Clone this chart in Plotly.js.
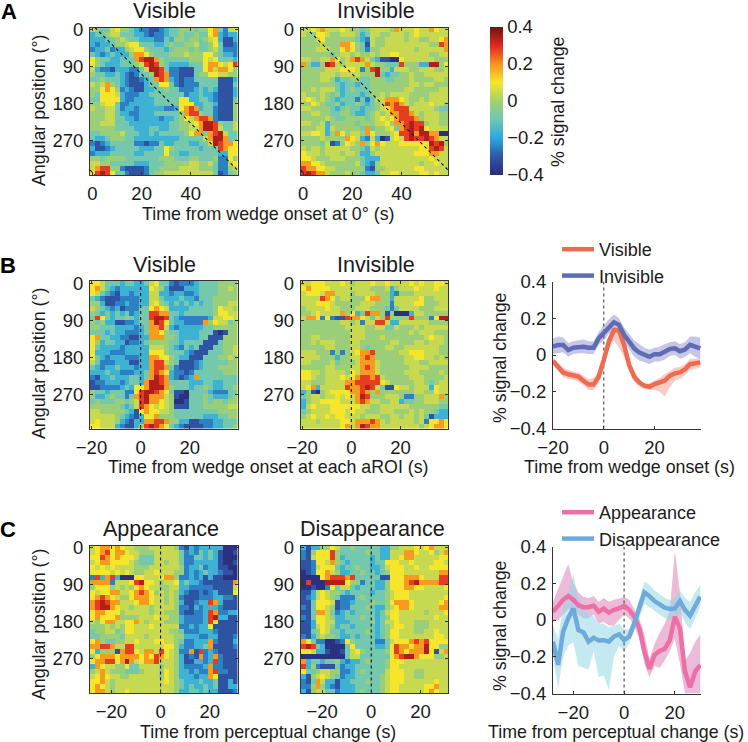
<!DOCTYPE html>
<html><head><meta charset="utf-8">
<script src="https://cdn.plot.ly/plotly-3.0.1.min.js"></script>
<style>html,body{margin:0;padding:0;background:#fff}#c{width:748px;height:742px}</style>
</head><body><div id="c"></div>
<script>
// Heatmap cells; each character is one cell, coded by colour level.
const levelCodes = "0123456789ab";
const levelValues = [-0.39,-0.31,-0.25,-0.17,-0.09,-0.02,0.04,0.10,0.19,0.28,0.34,0.40];

const aVisible = [
"65446 75543 22112 34455 54557 84266","34456 64443 32122 34454 45447 83233","33344 56544 33322 43554 55456 73113",
"32334 55677 44433 45445 56445 74112","23342 33567 75444 34555 45445 64222","43234 33358 87544 45556 55577 54332",
"75443 34448 9aa85 44444 55576 74443","75433 34445 69a95 43333 44478 87679","63221 33322 46aa9 42211 14478 68875",
"54433 43212 445a9 82211 14557 76655","44544 43211 23489 83212 24444 41113","65685 43211 13447 74212 22444 41114",
"55787 52321 13344 54422 23434 31113","54777 63222 33444 44442 33433 21113","44777 73223 33344 44477 33443 21114",
"55677 42233 33344 44477 73344 31115","65566 42332 33333 22378 98344 21115","55566 43322 33344 44458 99544 21115",
"55566 44332 33332 33457 68998 21115","55666 44433 33333 34455 678aa 95446","55555 44443 33443 34455 668aa 96446",
"44555 56444 33434 44445 78848 9a644","43345 55443 33333 33344 44468 aa844","21234 44442 21224 33444 33446 a9887",
"31123 44444 33344 75444 44344 49877","23334 44443 34444 74433 44444 43377","55455 55444 44445 55444 55444 52275",
"66554 44443 33444 55555 66556 42267","68995 52111 12445 55566 66555 42256","79a97 44211 12455 66666 66666 41245"];

const aInvisible = [
"66768 66676 55456 66658 66676 68766","65577 65566 65346 65566 65676 66666","55567 55555 54326 55666 65665 56678",
"55556 55588 75416 55666 66666 65598","55566 65578 75425 56666 66656 66668","55555 54566 56556 56677 66666 65566",
"66556 68756 89864 31100 76666 66555","85335 a9656 66686 55444 95553 3aa57","55555 66677 76259 a5536 66556 66556",
"55556 66566 66555 a4344 55655 66666","55556 65344 55445 55445 55655 55665","55555 55434 43445 55555 55665 66555",
"55656 66434 54445 55555 56655 55566","65556 54534 44345 56566 66555 56666","67656 54344 42424 66888 76556 56666",
"55765 44534 45434 56989 86566 67665","66555 54345 44344 56789 99666 66544","55665 54455 43345 65688 99865 66655",
"55555 65445 55545 67678 99985 66655","66556 35555 54555 66758 89a99 56655","55566 36555 55484 55674 89a9a 76666",
"66776 35875 66587 55567 99a8a a8800","55556 55558 76326 30167 69a99 a9866","55554 61257 65857 87666 77777 7a9a5",
"65665 66666 55436 56666 66667 79a96","76665 66656 65335 66666 66677 78866","77655 56665 55433 36666 66666 67666",
"88776 55555 56432 56666 66665 66766","98877 66555 55521 55666 66677 66666","9a988 65556 55433 46677 66667 76766"];

const bVisible = [
"77644 43443 34674 42122 23444 45555","78643 23333 33765 31113 33444 45565","76432 13323 33663 32332 23444 45555",
"43211 12222 33664 33343 32444 55555","55311 22322 33675 43434 34344 55566","65432 31222 44787 63333 44444 57665",
"54343 43423 44998 84434 44444 57766","49743 44543 449aa 94322 22223 66776","54533 11223 448a9 74332 22285 76645",
"55444 33332 34889 63233 33344 55555","44434 33222 34887 54433 33444 10155","78443 32211 33888 55433 33441 11555",
"75344 33122 34555 54434 44411 14555","74333 32333 33666 54324 34111 44556","73332 22333 33777 54443 21114 44556",
"74323 33222 33887 75433 11144 45565","64222 33311 33899 65411 12344 44455","43233 43332 33899 84211 12344 45555",
"33343 32223 34898 73221 24444 44555","21334 33344 348a9 83212 38444 44444","12233 32344 38aa9 84444 33344 33444",
"11222 23437 78aaa 85444 34454 33445","54434 44227 9aa98 74110 44443 22244","53345 44248 9a888 65100 44454 33345",
"45444 55456 9a887 65001 44454 55455","55555 54346 98767 65111 44455 55566","66555 55431 78776 65444 44444 45555",
"66666 54321 37785 55444 44433 34455","67666 53213 38899 85533 11222 33444","77666 32113 59a98 74321 11122 33445"];

const bInvisible = [
"66777 66676 56667 66766 66767 66776","78777 76666 66665 55635 66676 66766","67776 88666 56666 55532 55566 66666",
"66669 87566 55578 85536 66667 55666","66677 76555 55666 55526 66677 55566","56666 76655 56665 55424 66665 55666",
"55676 66685 73498 85150 00366 55555","68872 72119 88764 65955 55955 527aa","55555 55566 56266 99633 66666 65555",
"55555 55556 66655 66446 55565 66666","55555 55555 66655 55555 55656 66555","55665 55555 66655 56555 55555 67665",
"55656 66555 66555 55566 55566 56665","55555 66555 66545 55665 56666 66655","66655 52525 67889 55555 66777 66655",
"66665 55355 66898 55555 56677 66565","66555 56455 56888 65555 56665 56666","55555 66555 66898 65555 55666 65555",
"77665 66665 76888 65555 56665 55565","77655 66676 78998 96555 55666 55556","66555 66668 89999 97655 55566 54566",
"67836 66669 889a9 64117 66566 63766","35105 67777 88985 85555 55566 55766","45665 66767 68a95 55666 52255 66685",
"35667 77766 68986 65566 34455 66655","36766 67777 77665 56666 66555 55544","45666 67776 76655 56665 55656 55433",
"56766 76776 66566 65566 56656 41333","66656 66677 68889 86566 66656 27787","66666 66678 68a98 86666 66665 67887"];

const cAppearance = [
"67887 87665 55666 66521 32333 33000","67897 88766 55566 66642 32434 31001","77987 87776 44466 66642 24434 31000",
"67887 77765 44466 56642 23333 31001","76767 66665 55666 66652 33423 31100","77776 76765 56676 66552 32343 32110",
"29389 30007 76667 88522 32313 11000","88882 66679 a7765 66734 33211 11118","57775 65657 87665 56633 22222 11116",
"76778 86678 98756 56532 11212 31117","78987 65578 88766 56521 11222 33221","89a98 86667 88766 56531 12339 83111",
"89aa8 76656 66566 66522 13233 32111","78877 75666 66566 55521 12239 82233","78777 85555 66676 65532 22239 a3311",
"65788 66778 65666 55532 22239 71111","55565 65776 66766 66622 32337 11111","45566 45776 66666 65542 22333 21111",
"44555 54666 65666 66553 33223 31112","78544 55667 66677 66542 23338 21113","88998 66996 66666 77532 23348 11112",
"73555 18997 68869 76522 81923 21111","57888 78888 78798 76531 21823 82111","78899 78a86 78896 66531 13323 92111",
"38766 55744 66665 66532 22238 22111","56865 55444 56665 76533 23228 92211","67876 65566 66665 76533 32338 71111",
"77865 66666 66666 76543 33433 41131","78765 66666 66666 66543 43343 41133","78865 66766 66666 66533 44343 31112"];

const cDisappearance = [
"31335 57644 54444 43355 66676 78666","21577 79544 44454 43366 68876 67568","21677 79534 44443 43366 78866 66677",
"11277 68543 44443 44777 66766 66776","11267 77434 45443 34677 76676 67777","01277 86533 44544 34577 76666 66688",
"00007 89998 94444 41177 78887 66699","09000 aaaa7 55244 33577 789a8 88899","00100 27466 43444 33577 78877 66667",
"11367 65543 44443 44567 77666 66666","12367 65422 24544 44567 77666 66667","11477 76122 34445 44578 88766 66678",
"21477 65122 44454 33567 88766 66688","11488 64234 34444 34677 66666 56667","21477 65334 44544 34577 66666 66766",
"11377 66333 44445 34667 66655 56666","11367 65344 34444 34567 76655 56666","11457 64434 44454 34577 66655 66766",
"21356 55433 43444 34577 66666 66776","87422 00127 54444 22467 77898 97777","9a943 00004 74444 33479 88788 a7755",
"77633 10014 67544 44579 87888 a7168","00000 00004 66444 44478 9aa87 77556","83443 44532 33454 44577 76666 66666",
"93521 11423 34444 44577 66666 66666","74456 65522 34544 44677 76655 66666","31567 65423 34444 45677 76655 66666",
"21486 33133 44454 45677 76666 66766","22585 32133 34444 45677 66666 77866","31566 44233 34544 45677 66666 78766"];

// Time courses
const wedgeTime = [-20,-18,-16,-14,-12,-10,-8,-6,-4,-2,0,2,4,6,8,10,12,14,16,18,20,22,24,26,28,30,32,34,36,38];
const visibleMean = [-.033,-.064,-.095,-.105,-.11,-.118,-.14,-.16,-.16,-.118,-.027,.073,.136,.133,.055,-.055,-.118,-.15,-.167,-.173,-.158,-.15,-.14,-.113,-.1,-.095,-.078,-.05,-.047,-.04];
const visibleUpper = [-.015,-.04,-.07,-.08,-.09,-.095,-.115,-.13,-.125,-.09,-.005,.09,.15,.15,.09,-.02,-.09,-.135,-.155,-.155,-.14,-.125,-.105,-.085,-.07,-.065,-.05,-.02,-.02,-.015];
const visibleLower = [-.05,-.085,-.12,-.13,-.135,-.145,-.165,-.19,-.19,-.15,-.06,.03,.08,.04,-.01,-.09,-.145,-.17,-.185,-.19,-.19,-.2,-.225,-.175,-.14,-.13,-.11,-.08,-.075,-.07];
const invisibleMean = [.045,.055,.055,.027,.04,.045,.045,.04,.04,.09,.12,.155,.178,.164,.11,.073,.036,.013,0,-.01,.004,.004,.018,.033,.036,.02,.03,.055,.045,.036];
const invisibleUpper = [.09,.1,.095,.065,.075,.08,.085,.075,.075,.125,.16,.195,.22,.2,.15,.115,.08,.06,.04,.03,.04,.045,.06,.07,.075,.06,.07,.1,.1,.095];
const invisibleLower = [.005,.01,.015,-.01,.005,.01,.01,.005,.005,.055,.08,.115,.135,.125,.07,.03,-.01,-.03,-.04,-.05,-.035,-.035,-.025,-.005,0,-.02,-.01,.01,-.01,-.02];

const perceptTime = [-28,-26,-24,-22,-20,-18,-16,-14,-12,-10,-8,-6,-4,-2,0,2,4,6,8,10,12,14,16,18,20,22,24,26,28,30];
const appearanceMean = [.045,.08,.11,.13,.11,.08,.07,.07,.078,.045,.063,.04,.055,.063,.078,.055,.018,-.045,-.17,-.266,-.19,-.168,-.157,-.11,.018,-.045,-.28,-.367,-.28,-.245];
const appearanceUpper = [.1,.17,.24,.305,.2,.15,.125,.12,.13,.1,.12,.1,.11,.115,.125,.11,.06,.01,-.08,-.21,-.13,-.07,-.02,.05,.38,.15,-.22,-.18,-.12,-.08];
const appearanceLower = [-.01,0,.03,.06,.05,.03,.01,.01,.03,-.02,-.01,-.03,-.03,0,.03,.01,-.03,-.1,-.24,-.31,-.25,-.26,-.22,-.17,-.1,-.24,-.4,-.4,-.4,-.4];
const disappearanceMean = [-.118,-.244,-.063,.01,.063,-.055,-.067,-.118,-.096,-.112,-.11,-.118,-.09,-.078,-.11,-.09,-.018,.063,.15,.13,.103,.085,.067,.06,.063,.103,.054,.024,.08,.127];
const disappearanceUpper = [-.03,-.1,.08,.15,.25,.12,.08,.03,.02,-.02,-.02,-.04,-.03,-.02,-.05,-.05,.02,.12,.21,.19,.16,.14,.12,.11,.12,.16,.12,.1,.15,.19];
const disappearanceLower = [-.2,-.37,-.2,-.14,-.12,-.25,-.26,-.27,-.17,-.31,-.3,-.38,-.2,-.14,-.17,-.13,-.06,.01,.09,.07,.05,.03,.01,0,0,.04,-.01,-.05,.01,.07];

const timeTicksA = [0,20,40];
const timeTicksB = [-20,0,20];
const angleTicks = [0,90,180,270];
const percentTicks = [-0.4,-0.2,0,0.2,0.4];

// ---- helpers ----
const W = 748, H = 742, FONT = '"Liberation Sans", Arial, sans-serif', INK = '#1a1a1a';
const TICK = 18.5, LABEL = 17.8, TITLE = 21.5, LEG = 18;
const decode = rows => rows.map(r => Array.from(r.replace(/\s/g,'')).map(c => levelValues[levelCodes.indexOf(c)]));
const angles = Array.from({length:30},(_,i)=>i*12);
const colorscale = [[0,'#2a2c7c'],[.125,'#2f57a7'],[.25,'#2aa9e0'],[.375,'#6dc7b4'],[.5,'#a7d06a'],[.625,'#f5e62c'],[.75,'#f7931e'],[.875,'#e2261f'],[1,'#6b1512']];

const layout = {width:W,height:H,autosize:false,margin:{l:0,r:0,t:0,b:0},paper_bgcolor:'#fff',plot_bgcolor:'#fff',
  font:{family:FONT,size:TICK,color:INK},showlegend:true,annotations:[],
  coloraxis:{cmin:-.4,cmax:.4,colorscale,colorbar:{x:490/W,xanchor:'left',xpad:0,ypad:0,y:1-101/H,yanchor:'middle',len:148/H,lenmode:'fraction',
    thickness:13,thicknessmode:'pixels',outlinewidth:0,tickvals:percentTicks,ticklen:0,ticks:'',tickfont:{size:TICK,family:FONT,color:INK}}},
  legend:{x:557/W,y:1-231/H,xanchor:'left',yanchor:'top',bgcolor:'rgba(0,0,0,0)',font:{size:LEG},itemwidth:32,traceorder:'grouped',tracegroupgap:0},
  legend2:{x:557/W,y:1-494/H,xanchor:'left',yanchor:'top',bgcolor:'rgba(0,0,0,0)',font:{size:LEG},itemwidth:32,traceorder:'grouped',tracegroupgap:0}
};
const traces = [];
function axisPair(n,x0,x1,y0,y1,xaxis,yaxis){
  const s = n===1?'':n;
  layout['xaxis'+s] = Object.assign({domain:[x0/W,x1/W],anchor:'y'+s,tickfont:{size:TICK,family:FONT,color:INK},zeroline:false,showgrid:false,
    linecolor:'#333',linewidth:1,ticks:'inside',ticklen:3,tickcolor:'#333',ticklabelstandoff:2},xaxis);
  layout['yaxis'+s] = Object.assign({domain:[1-y1/H,1-y0/H],anchor:'x'+s,tickfont:{size:TICK,family:FONT,color:INK},zeroline:false,showgrid:false,
    linecolor:'#333',linewidth:1,ticks:'inside',ticklen:3,tickcolor:'#333',ticklabelstandoff:2},yaxis);
  return ['x'+s,'y'+s];
}
function heat(n,x0,y0,rows,left,ticks,lines,yLabels){
  const [xa,ya] = axisPair(n,x0,x0+147.5,y0,y0+147.5,{range:[left,left+60],tickvals:ticks,mirror:'ticks',ticklabelposition:'outside'},
    {range:[354,-6],tickvals:angleTicks,mirror:'ticks',showticklabels:yLabels});
  traces.push({type:'heatmap',x:Array.from({length:30},(_,i)=>left+1+2*i),y:angles,z:decode(rows),coloraxis:'coloraxis',xaxis:xa,yaxis:ya,hoverinfo:'skip',showlegend:false});
  lines.forEach(l=>traces.push({type:'scatter',mode:'lines',x:l[0],y:l[1],xaxis:xa,yaxis:ya,showlegend:false,hoverinfo:'skip',line:{color:'#111',width:1.1,dash:'3px,3px'}}));
}
function course(n,x0,y0,range,time,series,legendName){
  const [xa,ya] = axisPair(n,x0,x0+148,y0,y0+147,{range,tickvals:timeTicksB},{range:[-.4,.4],tickvals:percentTicks});
  series.forEach(s=>traces.push({type:'scatter',mode:'lines',x:time.concat(time.slice().reverse()),y:s.upper.concat(s.lower.slice().reverse()),
    fill:'toself',fillcolor:s.band,line:{width:0},xaxis:xa,yaxis:ya,showlegend:false,hoverinfo:'skip'}));
  traces.push({type:'scatter',mode:'lines',x:[0,0],y:[-.4,.4],xaxis:xa,yaxis:ya,showlegend:false,hoverinfo:'skip',line:{color:'#444',width:1.1,dash:'3px,3px'}});
  series.forEach(s=>traces.push({type:'scatter',mode:'lines',name:s.name,legend:legendName,legendgroup:s.name,x:time,y:s.mean,xaxis:xa,yaxis:ya,hoverinfo:'skip',line:{color:s.color,width:4.5,shape:'linear'}}));
}
function note(text,x,y,size,opt){
  layout.annotations.push(Object.assign({text,xref:'paper',yref:'paper',x:x/W,y:1-y/H,showarrow:false,xanchor:'center',yanchor:'middle',font:{size,family:FONT,color:INK}},opt||{}));
}

// ---- panels ----
const diagA = [[[-1,1],[342,354]],[[1,59],[-6,342]]];
heat(1,90,27.5,aVisible,-1,timeTicksA,diagA,true);
heat(2,300.7,27.5,aInvisible,-1,timeTicksA,diagA,true);
const zeroB = [[[0,0],[-6,354]]];
heat(3,90,281,bVisible,-20.6,timeTicksB,zeroB,true);
heat(4,300.7,281,bInvisible,-20.6,timeTicksB,zeroB,true);
course(5,553,281.5,[-20,38.3],wedgeTime,[
 {name:'Visible',mean:visibleMean,upper:visibleUpper,lower:visibleLower,color:'#ee6a50',band:'rgba(240,130,115,.42)'},
 {name:'Invisible',mean:invisibleMean,upper:invisibleUpper,lower:invisibleLower,color:'#5f6bb3',band:'rgba(120,120,195,.42)'}],'legend');
heat(6,90,545.5,cAppearance,-28.7,timeTicksB,zeroB,true);
heat(7,300.7,545.5,cDisappearance,-28.7,timeTicksB,zeroB,true);
course(8,553,546.5,[-28,30.3],perceptTime,[
 {name:'Appearance',mean:appearanceMean,upper:appearanceUpper,lower:appearanceLower,color:'#ec6fa6',band:'rgba(215,120,175,.5)'},
 {name:'Disappearance',mean:disappearanceMean,upper:disappearanceUpper,lower:disappearanceLower,color:'#6faadd',band:'rgba(150,215,230,.55)'}],'legend2');

// ---- text ----
const bold = {font:{size:22,family:FONT,color:'#000',weight:700}};
note('A',9,12,22,bold); note('B',8,265,22,bold); note('C',8,529,22,bold);
note('Visible',164,11,TITLE); note('Invisible',376,11,TITLE);
note('Visible',164,265,TITLE); note('Invisible',376,265,TITLE);
note('Appearance',161,529,TITLE); note('Disappearance',372,529,TITLE);
note('Time from wedge onset at 0° (s)',268,214,LABEL);
note('Time from wedge onset at each aROI (s)',268,467,LABEL);
note('Time from perceptual change (s)',268,732,LABEL);
note('Time from wedge onset (s)',629,467,LABEL);
note('Time from perceptual change (s)',616,732,LABEL);
note('Angular position (°)',39,111,LABEL,{textangle:-90});
note('Angular position (°)',39,364,LABEL,{textangle:-90});
note('Angular position (°)',39,625,LABEL,{textangle:-90});
note('% signal change',558,102,LABEL,{textangle:-90});
note('% signal change',500,358,LABEL,{textangle:-90});
note('% signal change',500,626,LABEL,{textangle:-90});

Plotly.newPlot('c',traces,layout,{displayModeBar:false,staticPlot:true});
</script></body></html>
